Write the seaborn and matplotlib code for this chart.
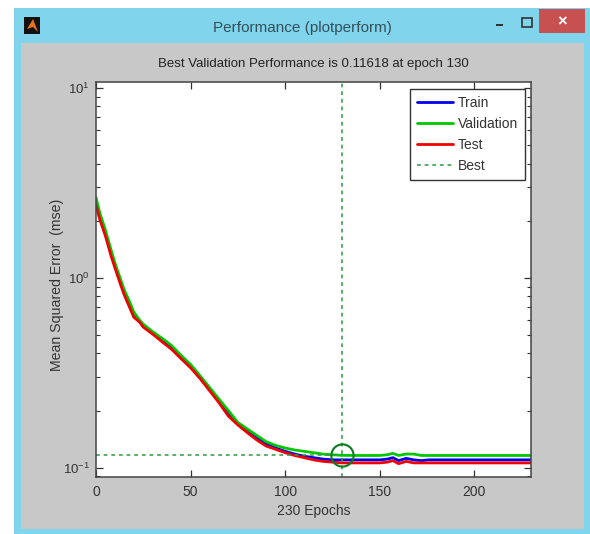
import matplotlib.pyplot as plt
import seaborn as sns
from matplotlib.patches import Polygon, Rectangle

# Values
epochs = [0, 2, 5, 8, 10, 13, 15, 18, 20, 23, 25, 30, 35, 40, 45, 50, 55, 60, 65,
          70, 75, 80, 85, 90, 95, 100, 105, 110, 115, 120, 125, 130, 140, 150, 154,
          157, 160, 164, 168, 172, 176, 182, 184, 200, 230]
train = [2.5, 2.1, 1.7, 1.34, 1.16, 0.95, 0.83, 0.72, 0.64, 0.59, 0.56, 0.51, 0.47,
         0.43, 0.38, 0.345, 0.30, 0.26, 0.225, 0.195, 0.17, 0.158, 0.145, 0.134,
         0.127, 0.122, 0.118, 0.115, 0.113, 0.111, 0.110, 0.110, 0.110, 0.110,
         0.111, 0.113, 0.109, 0.112, 0.110, 0.109, 0.110, 0.110, 0.110, 0.110, 0.110]
validation = [2.65, 2.2, 1.78, 1.4, 1.2, 0.98, 0.86, 0.74, 0.66, 0.6, 0.57, 0.52, 0.48,
              0.44, 0.39, 0.35, 0.305, 0.265, 0.23, 0.2, 0.173, 0.16, 0.148, 0.137,
              0.131, 0.127, 0.124, 0.122, 0.12, 0.118, 0.117, 0.11618, 0.116, 0.116,
              0.117, 0.119, 0.116, 0.118, 0.118, 0.116, 0.116, 0.116, 0.116, 0.116, 0.116]
test = [2.42, 2.03, 1.66, 1.3, 1.13, 0.92, 0.81, 0.69, 0.62, 0.585, 0.55, 0.505, 0.46,
        0.42, 0.375, 0.336, 0.295, 0.255, 0.22, 0.187, 0.168, 0.153, 0.14, 0.13,
        0.125, 0.12, 0.116, 0.113, 0.11, 0.108, 0.107, 0.106, 0.106, 0.106, 0.107,
        0.109, 0.105, 0.108, 0.106, 0.106, 0.106, 0.106, 0.106, 0.106, 0.106]
best_epoch = 130
best_value = 0.11618

x_ticks = [0, 50, 100, 150, 200]
window_title = 'Performance (plotperform)'
chart_title = 'Best Validation Performance is 0.11618 at epoch 130'

sns.set_theme(style='ticks')
plt.rcParams['font.family'] = ['Liberation Sans', 'DejaVu Sans']
plt.rcParams['mathtext.default'] = 'regular'

W, H = 590, 534
fig = plt.figure(figsize=(W / 100, H / 100), dpi=100, facecolor='white')


def box(x0, y0, x1, y1, color):
    fig.add_artist(Rectangle((x0 / W, 1 - y1 / H), (x1 - x0) / W, (y1 - y0) / H,
                             transform=fig.transFigure, fc=color, ec='none', zorder=-2))


# Window frame
box(14, 8, 590, 534, '#80d4ec')
box(21, 43, 584, 529, '#c8c8c8')
box(539, 9, 585, 33, '#c75050')
box(24, 17, 40, 34, '#111111')
fig.add_artist(Polygon([(27 / W, 1 - 29 / H), (33 / W, 1 - 19 / H), (38 / W, 1 - 32 / H),
                        (33 / W, 1 - 27 / H)], transform=fig.transFigure,
                       fc='#e8701a', ec='none', zorder=-1))
box(496, 24, 503, 26, '#333333')
fig.add_artist(Rectangle((522 / W, 1 - 27 / H), 10 / W, 9 / H, transform=fig.transFigure,
                         fc='none', ec='#333333', lw=1.2, zorder=-1))
fig.text(562 / W, 1 - 22 / H, '×', color='white', fontsize=12, ha='center', va='center',
         fontweight='bold')
fig.text(302 / W, 1 - 28 / H, window_title, color='#33505a', fontsize=11, ha='center',
         va='center')

ax = fig.add_axes([96 / W, 1 - 477 / H, 435 / W, 395 / H], facecolor='white')
sns.lineplot(x=epochs, y=train, ax=ax, color='#0000f0', lw=2, label='Train',
             estimator=None)
sns.lineplot(x=epochs, y=validation, ax=ax, color='#00c800', lw=2, label='Validation',
             estimator=None)
sns.lineplot(x=epochs, y=test, ax=ax, color='#f00000', lw=2, label='Test',
             estimator=None)

# Best epoch markers
best_color = '#2e9a40'
ax.plot([0, best_epoch], [best_value, best_value], color=best_color, lw=1.1,
        ls=(0, (2.5, 2.5)), label='Best')
ax.axvline(best_epoch, color=best_color, lw=1.1, ls=(0, (2.5, 2.5)))
ax.plot([best_epoch], [best_value], marker='o', ms=16, mfc='none', mec='#0a7a1e', mew=1.5)

ax.set_yscale('log')
ax.set_xlim(0, 230)
ax.set_ylim(10 ** (-1 - 9.3 / 190), 10 ** (1 + 6 / 190))
ax.set_xticks(x_ticks)
ax.set_xticklabels([str(t) for t in x_ticks])
ax.tick_params(which='major', direction='in', top=True, right=True, length=5, width=0.9,
               color='#333333', labelcolor='#333333', labelsize=10, pad=6)
ax.tick_params(which='minor', direction='in', top=False, right=True, length=3, width=0.8,
               color='#333333')
ax.tick_params(axis='y', which='major', labelsize=9.5, pad=4.5)
for label in ax.get_yticklabels():
    label.set_verticalalignment('center_baseline')
for s in ax.spines.values():
    s.set_color('#444444')
    s.set_linewidth(1.1)

ax.set_xlabel('230 Epochs', fontsize=10, color='#333333', labelpad=3)
ax.set_ylabel('Mean Squared Error  (mse)', fontsize=10.2, color='#333333', labelpad=-1,
              y=0.486)
ax.set_title(chart_title, fontsize=9.5, color='#222222', pad=11)

leg = ax.legend(loc='upper left', bbox_to_anchor=(410 / W, 1 - 89 / H),
                bbox_transform=fig.transFigure, borderaxespad=0, fontsize=10,
                fancybox=False, framealpha=1, edgecolor='#333333', handlelength=2.6,
                handletextpad=0.35, labelspacing=0.5, borderpad=0.5)
leg.get_frame().set_linewidth(1)
for t in leg.get_texts():
    t.set_color('#333333')

plt.savefig('out.png', dpi=100)
